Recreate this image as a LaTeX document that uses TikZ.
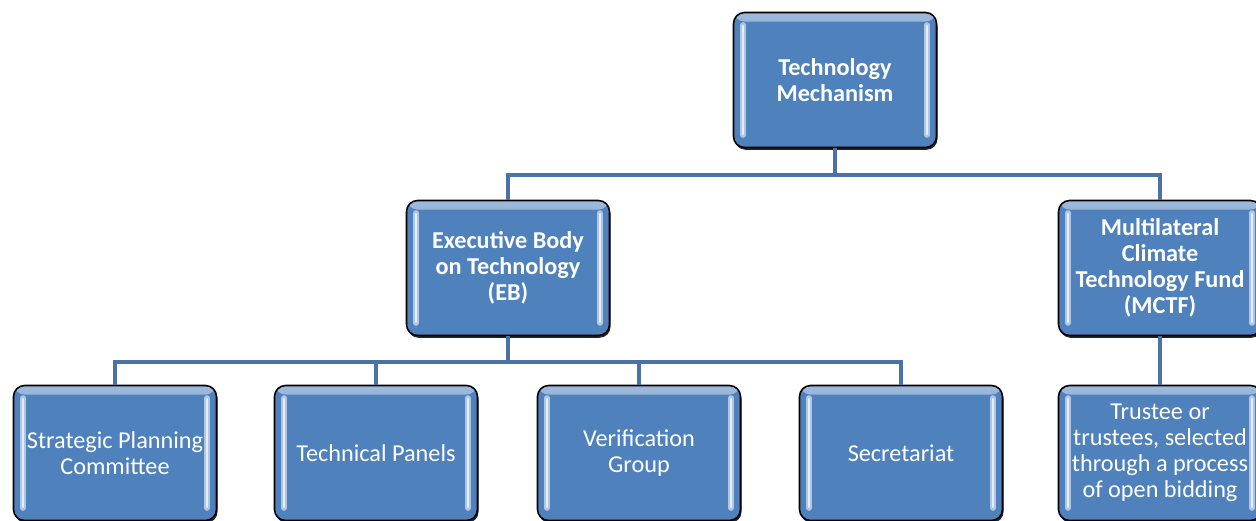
\documentclass[tikz,border=0pt]{standalone}
\usepackage{fontspec}
\setmainfont{Carlito}
\usetikzlibrary{shadows}
\definecolor{boxblue}{HTML}{4F81BD}
\definecolor{linkblue}{HTML}{4A72A6}
\definecolor{glow}{HTML}{E4EEFA}
\tikzset{
    orgbox/.style={
        draw=black, line width=0.9pt, rectangle, rounded corners=0.22cm,
        fill=boxblue, text=white, align=center,
        minimum width=4.06cm, minimum height=2.7cm, inner sep=0pt,
        font=\fontsize{13.8}{14.9}\selectfont,
        drop shadow={shadow xshift=0.6pt, shadow yshift=-1.3pt, fill=black, opacity=0.85},
        path picture = {
            \fill[top color=boxblue!55!white, bottom color=boxblue]
            (path picture bounding box.north west) rectangle
            ([yshift=-0.18cm]path picture bounding box.north east);
            \draw[boxblue!45!white, line width=3.2pt, line cap=round]
            ([xshift=0.19cm,yshift=-0.25cm]path picture bounding box.north west) --
            ([xshift=0.19cm,yshift=0.25cm]path picture bounding box.south west)
            ([xshift=-0.19cm,yshift=-0.25cm]path picture bounding box.north east) --
            ([xshift=-0.19cm,yshift=0.25cm]path picture bounding box.south east);
            \draw[glow, line width=1.2pt, line cap=round]
            ([xshift=0.19cm,yshift=-0.27cm]path picture bounding box.north west) --
            ([xshift=0.19cm,yshift=0.27cm]path picture bounding box.south west)
            ([xshift=-0.19cm,yshift=-0.27cm]path picture bounding box.north east) --
            ([xshift=-0.19cm,yshift=0.27cm]path picture bounding box.south east);
        }
    }
}

\begin{document}
\begin{tikzpicture}[
        x=0.02cm, y=-0.02cm,
        link/.style={draw=linkblue, line width=2.8pt},
        bold/.style={font=\fontsize{13.8}{14.9}\selectfont\bfseries}
      ]
    \clip (0,0) rectangle (1256,520);

    \node[orgbox,bold] (tm)    at (835,80)   {Technology\\Mechanism};
    \node[orgbox,bold] (eb)    at (508,268)  {Executive Body\\on Technology\\(EB)};
    \node[orgbox,bold] (mctf)  at (1160,268) {Multilateral\\Climate\\Technology Fund\\(MCTF)};
    \node[orgbox]      (spc)   at (115,453)  {Strategic Planning\\Committee};
    \node[orgbox]      (tp)    at (376,453)  {Technical Panels};
    \node[orgbox]      (vg)    at (639,453)  {Verification\\Group};
    \node[orgbox]      (sec)   at (901,453)  {Secretariat};
    \node[orgbox]      (trust) at (1160,453) {Trustee or\\trustees, selected\\through a process\\of open bidding};

    \coordinate (upbus)  at (835,175);
    \coordinate (lowbus) at (508,362);

    \draw[link] (tm.south) -- (upbus);
    \draw[link] (eb.north) |- (upbus) -| (mctf.north);
    \draw[link] (eb.south) -- (lowbus);
    \draw[link] (spc.north) |- (lowbus) -| (sec.north);
    \draw[link] (tp.north) -- (tp.north |- lowbus);
    \draw[link] (vg.north) -- (vg.north |- lowbus);
    \draw[link] (mctf) -- (trust);

\end{tikzpicture}
\end{document}
